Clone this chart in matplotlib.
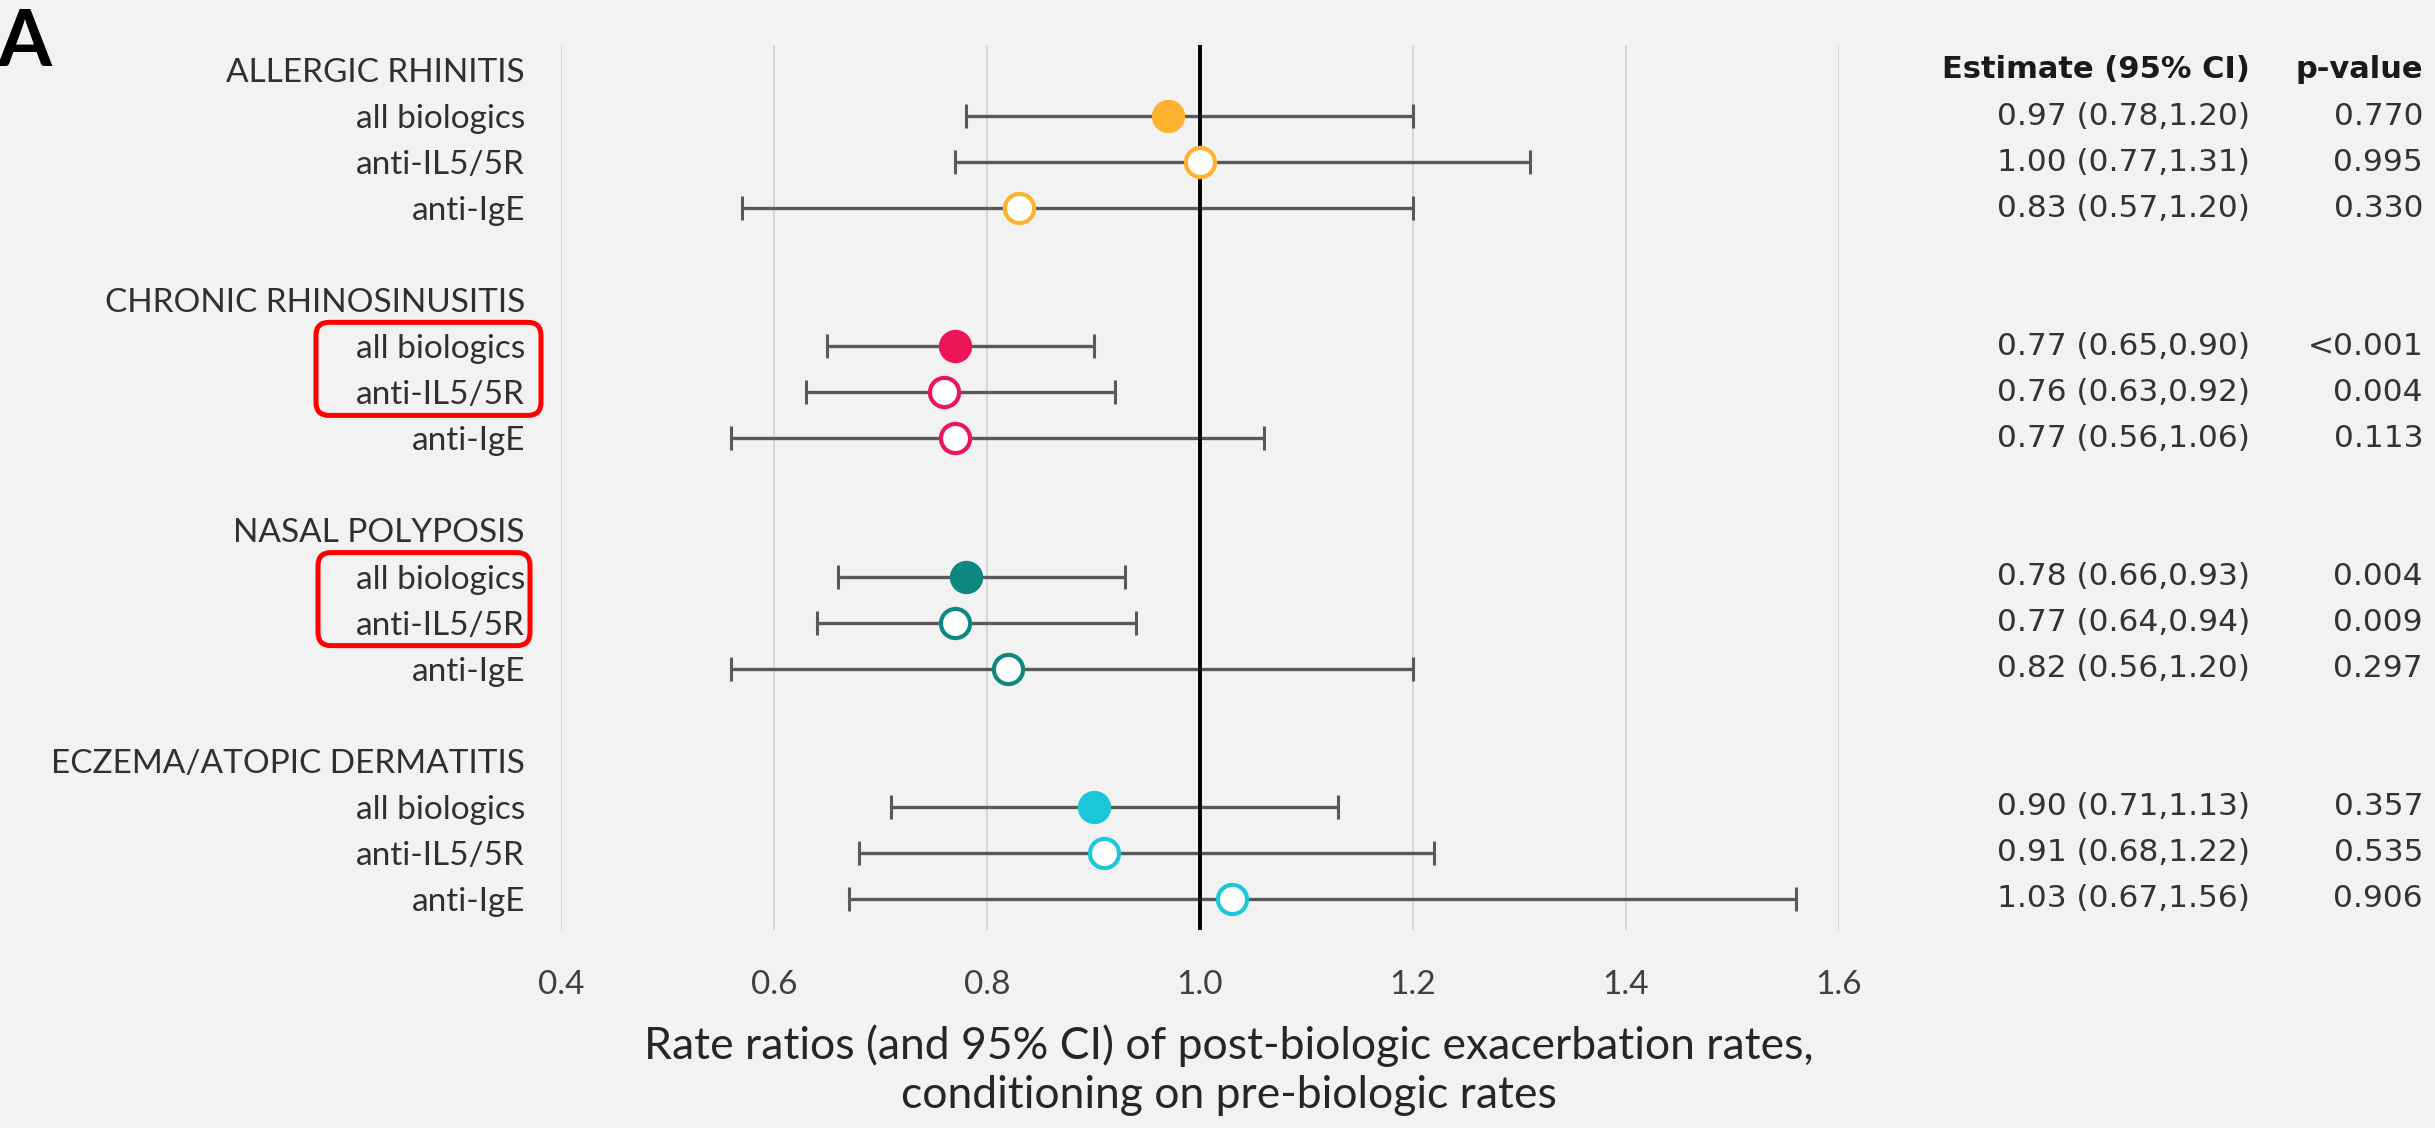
import numpy as np
import matplotlib
matplotlib.use("Agg")
import matplotlib.pyplot as plt
from matplotlib.patches import FancyBboxPatch
from matplotlib.transforms import blended_transform_factory, IdentityTransform

# data
groups = ["ALLERGIC RHINITIS", "CHRONIC RHINOSINUSITIS", "NASAL POLYPOSIS", "ECZEMA/ATOPIC DERMATITIS"]
subgroups = ["all biologics", "anti-IL5/5R", "anti-IgE"]
estimate = [[0.97, 1.00, 0.83], [0.77, 0.76, 0.77], [0.78, 0.77, 0.82], [0.90, 0.91, 1.03]]
ci_low = [[0.78, 0.77, 0.57], [0.65, 0.63, 0.56], [0.66, 0.64, 0.56], [0.71, 0.68, 0.67]]
ci_high = [[1.20, 1.31, 1.20], [0.90, 0.92, 1.06], [0.93, 0.94, 1.20], [1.13, 1.22, 1.56]]
p_values = [["0.770", "0.995", "0.330"], ["<0.001", "0.004", "0.113"],
            ["0.004", "0.009", "0.297"], ["0.357", "0.535", "0.906"]]
colors = ["#FDB32F", "#EE1459", "#0E8780", "#1BC8DA"]
xticks = [0.4, 0.6, 0.8, 1.0, 1.2, 1.4, 1.6]

W, H = 2435, 1128
bg = "#f2f2f2"
label_font = "Lato"
num_font = "DejaVu Sans"

fig = plt.figure(figsize=(W / 100, H / 100), dpi=100, facecolor=bg)
ax_l, ax_r, ax_t, ax_b = 561, 1839, 45, 930
row0_px, row_px = 70, 46.05
ax = fig.add_axes([ax_l / W, 1 - ax_b / H, (ax_r - ax_l) / W, (ax_b - ax_t) / H], facecolor=bg)

row_step = 5
ytick_pos, ytick_lab = [], []
for g, name in enumerate(groups):
    y0 = g * row_step
    ytick_pos.append(y0)
    ytick_lab.append(name)
    for s, sub in enumerate(subgroups):
        y = y0 + s + 1
        ytick_pos.append(y)
        ytick_lab.append(sub)
        est = estimate[g][s]
        ax.errorbar(est, y, xerr=[[est - ci_low[g][s]], [ci_high[g][s] - est]],
                    fmt="none", ecolor="#595959", elinewidth=2.4, capsize=8.5,
                    capthick=2.2, zorder=2)
        if s == 0:
            ax.plot(est, y, "o", ms=24, color=colors[g], mew=0, zorder=5)
        else:
            ax.plot(est, y, "o", ms=21, mfc="white", mec=colors[g], mew=3, zorder=5)

# reference line at 1 and light grid
for xt in xticks:
    if xt == 1.0:
        ax.axvline(xt, color="black", lw=2.8, zorder=3)
    else:
        ax.axvline(xt, color="#d6d6d6", lw=1.4, zorder=1)

ax.set_xlim(0.4, 1.6)
ax.set_ylim(18 + (ax_b - (row0_px + 18 * row_px)) / row_px, -(row0_px - ax_t) / row_px)
ax.set_xticks(xticks)
ax.set_xticklabels([f"{v:.1f}" for v in xticks], fontfamily=label_font, fontsize=24, color="#404040")
ax.set_yticks(ytick_pos)
ax.set_yticklabels(ytick_lab, fontfamily=label_font, fontsize=24, color="#303030")
ax.tick_params(axis="x", length=0, pad=29)
ax.tick_params(axis="y", length=0, pad=26)
for sp in ax.spines.values():
    sp.set_visible(False)

ax.set_xlabel("Rate ratios (and 95% CI) of post-biologic exacerbation rates,\nconditioning on pre-biologic rates",
              fontfamily=label_font, fontsize=32, color="#262626", linespacing=1.25)
ax.xaxis.set_label_coords((1229 - ax_l) / (ax_r - ax_l), (ax_b - 1024) / (ax_b - ax_t))

# estimate and p-value columns
tr = blended_transform_factory(fig.transFigure, ax.transData)
ax.text(2250 / W, 0, "Estimate (95% CI)", transform=tr, ha="right", va="center",
        fontfamily=num_font, fontsize=22, fontweight="bold", color="#1a1a1a")
ax.text(2423 / W, 0, "p-value", transform=tr, ha="right", va="center",
        fontfamily=num_font, fontsize=22, fontweight="bold", color="#1a1a1a")
for g in range(len(groups)):
    for s in range(len(subgroups)):
        y = g * row_step + s + 1
        txt = f"{estimate[g][s]:.2f} ({ci_low[g][s]:.2f},{ci_high[g][s]:.2f})"
        ax.text(2250 / W, y, txt, transform=tr, ha="right", va="center",
                fontfamily=num_font, fontsize=22.5, color="#333333")
        ax.text(2423 / W, y, p_values[g][s], transform=tr, ha="right", va="center",
                fontfamily=num_font, fontsize=22.5, color="#333333")

# red rounded highlight boxes around the significant rows (pixel coordinates)
for g, (x0, x1) in [(1, (316, 541)), (2, (318, 530))]:
    top_px = row0_px + (g * row_step + 1 - 0.52) * row_px
    bot_px = row0_px + (g * row_step + 2 + 0.5) * row_px
    box = FancyBboxPatch((x0, H - bot_px), x1 - x0, bot_px - top_px,
                         boxstyle="round,pad=0,rounding_size=13",
                         transform=IdentityTransform(), fill=False, ec="#ff0000",
                         lw=3.6, clip_on=False, zorder=6)
    fig.patches.append(box)

fig.text(-3 / W, 1 - 66 / H, "A", ha="left", va="baseline", fontfamily=label_font,
         fontsize=56, fontweight="bold", color="black")

fig.savefig("out.png", dpi=100, facecolor=bg)
